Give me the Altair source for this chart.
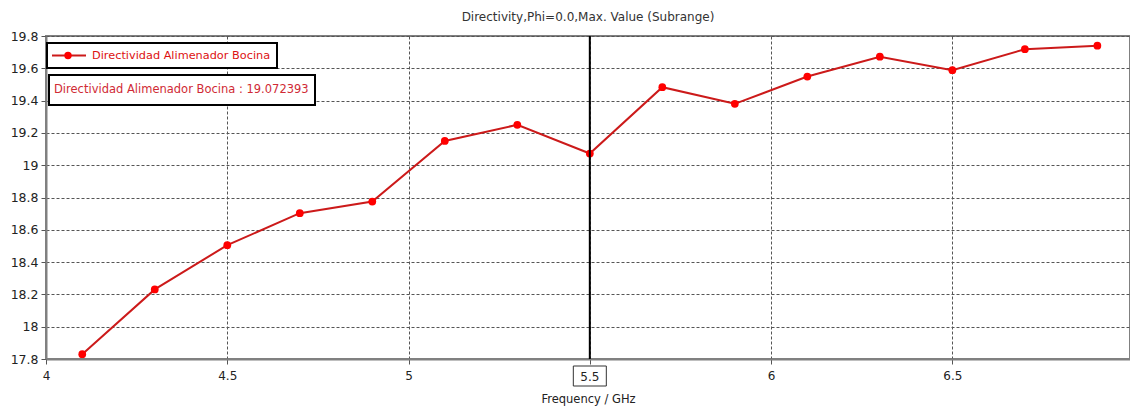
import altair as alt
import pandas as pd

# Directivity sweep (Phi = 0.0, max value over subrange)
freq_ghz = [4.1, 4.3, 4.5, 4.7, 4.9, 5.1, 5.3, 5.5, 5.7, 5.9, 6.1, 6.3, 6.5, 6.7, 6.9]
directivity = [17.83, 18.231, 18.505, 18.703, 18.775, 19.15, 19.25, 19.072393,
               19.483, 19.38, 19.549, 19.672, 19.588, 19.718, 19.74]

x_ticks = [4, 4.5, 5, 5.5, 6, 6.5]
y_ticks = [17.8, 18.0, 18.2, 18.4, 18.6, 18.8, 19.0, 19.2, 19.4, 19.6, 19.8]

series_name = "Directividad Alimenador Bocina"
marker_freq = 5.5
marker_value = 19.072393
chart_title = "Directivity,Phi=0.0,Max. Value (Subrange)"

FONT = "DejaVu Sans"
LINE_RED = "#cc1a1a"
DOT_RED = "#ff0000"
GRID = "#555555"

df = pd.DataFrame({"f": freq_ghz, "d": directivity})

W, H = 1084, 323

x_scale = alt.Scale(domain=[4, 6.99], nice=False, zero=False)
y_scale = alt.Scale(domain=[17.8, 19.8], nice=False, zero=False)

x_axis = alt.Axis(
    values=x_ticks, tickCount=50,
    labelExpr="abs(datum.value - 5.5) < 0.001 ? '' : replace(format(datum.value, '.1f'), '.0', '')",
    labelOverlap=False, labelFlush=False,
    grid=True, gridColor=GRID, gridDash=[3, 2], gridWidth=1,
    domainColor="#808080", domainWidth=2, tickColor="#555555", tickSize=5,
    labelFont=FONT, labelFontSize=12, labelColor="#222222", labelPadding=6,
    title="Frequency / GHz", titleFont=FONT, titleFontSize=11.5,
    titleFontWeight="normal", titleColor="#222222", titlePadding=12,
)
y_axis = alt.Axis(
    values=y_ticks, tickCount=50,
    labelExpr="replace(format(datum.value, '.1f'), '.0', '')",
    labelOverlap=False, labelFlush=False,
    grid=True, gridColor=GRID, gridDash=[3, 2], gridWidth=1,
    domainColor="#808080", domainWidth=2, tickColor="#555555", tickSize=5,
    labelFont=FONT, labelFontSize=12.5, labelColor="#222222", labelPadding=3,
    title=None,
)

base = alt.Chart(df)

line = base.mark_line(color=LINE_RED, strokeWidth=2).encode(
    x=alt.X("f:Q", scale=x_scale, axis=x_axis),
    y=alt.Y("d:Q", scale=y_scale, axis=y_axis),
)
dots = base.mark_circle(color=DOT_RED, opacity=1, size=60).encode(
    x=alt.X("f:Q", scale=x_scale),
    y=alt.Y("d:Q", scale=y_scale),
)

# vertical marker at the selected frequency, with its boxed axis label
marker_df = pd.DataFrame({"f": [marker_freq], "label": [f"{marker_freq:g}"]})
marker_line = alt.Chart(marker_df).mark_rule(color="#000000", strokeWidth=2).encode(
    x=alt.X("f:Q", scale=x_scale),
    y=alt.value(0), y2=alt.value(H),
)
marker_box = alt.Chart(marker_df).mark_rect(
    fill="white", stroke="#333333", strokeWidth=1, width=33, height=20
).encode(
    x=alt.X("f:Q", scale=x_scale), y=alt.value(H + 17),
)
marker_label = alt.Chart(marker_df).mark_text(
    font=FONT, fontSize=12, color="#222222", baseline="middle", align="center"
).encode(
    x=alt.X("f:Q", scale=x_scale), y=alt.value(H + 18), text="label:N",
)

# legend box with line-and-dot sample
legend_df = pd.DataFrame({"t": [series_name]})
legend_rect = alt.Chart(legend_df).mark_rect(
    fill="white", stroke="#000000", strokeWidth=2
).encode(x=alt.value(1), x2=alt.value(231), y=alt.value(7), y2=alt.value(32))
legend_line = alt.Chart(legend_df).mark_rule(color=LINE_RED, strokeWidth=2).encode(
    x=alt.value(6), x2=alt.value(40), y=alt.value(19.5)
)
legend_dot = alt.Chart(legend_df).mark_circle(color=DOT_RED, opacity=1, size=55).encode(
    x=alt.value(22), y=alt.value(19.5)
)
legend_text = alt.Chart(legend_df).mark_text(
    font=FONT, fontSize=11.3, color="#dd1111", align="left", baseline="middle"
).encode(x=alt.value(46), y=alt.value(20), text="t:N")

# readout box for the marker value
readout_df = pd.DataFrame({"t": [f"{series_name} : {marker_value:.6f}"]})
readout_rect = alt.Chart(readout_df).mark_rect(
    fill="white", stroke="#000000", strokeWidth=2
).encode(x=alt.value(3), x2=alt.value(269), y=alt.value(39), y2=alt.value(69))
readout_text = alt.Chart(readout_df).mark_text(
    font=FONT, fontSize=11.5, color="#d02a35", align="left", baseline="middle"
).encode(x=alt.value(8), y=alt.value(54), text="t:N")

title_df = pd.DataFrame({"t": [chart_title]})
title_text = alt.Chart(title_df).mark_text(
    font=FONT, fontSize=12, color="#333333", align="center", baseline="middle"
).encode(x=alt.value(W / 2), y=alt.value(-19), text="t:N")

chart = alt.layer(
    line, dots, marker_line, marker_box, marker_label,
    legend_rect, legend_line, legend_dot, legend_text,
    readout_rect, readout_text, title_text,
).properties(
    width=W, height=H,
    autosize=alt.AutoSizeParams(type="none"),
    padding={"left": 46, "top": 36, "right": 0, "bottom": 49},
    background="white",
).configure_view(
    stroke="#808080", strokeWidth=2, clip=False
)

chart.save("out.html", embed_options={"renderer": "svg", "actions": False})
